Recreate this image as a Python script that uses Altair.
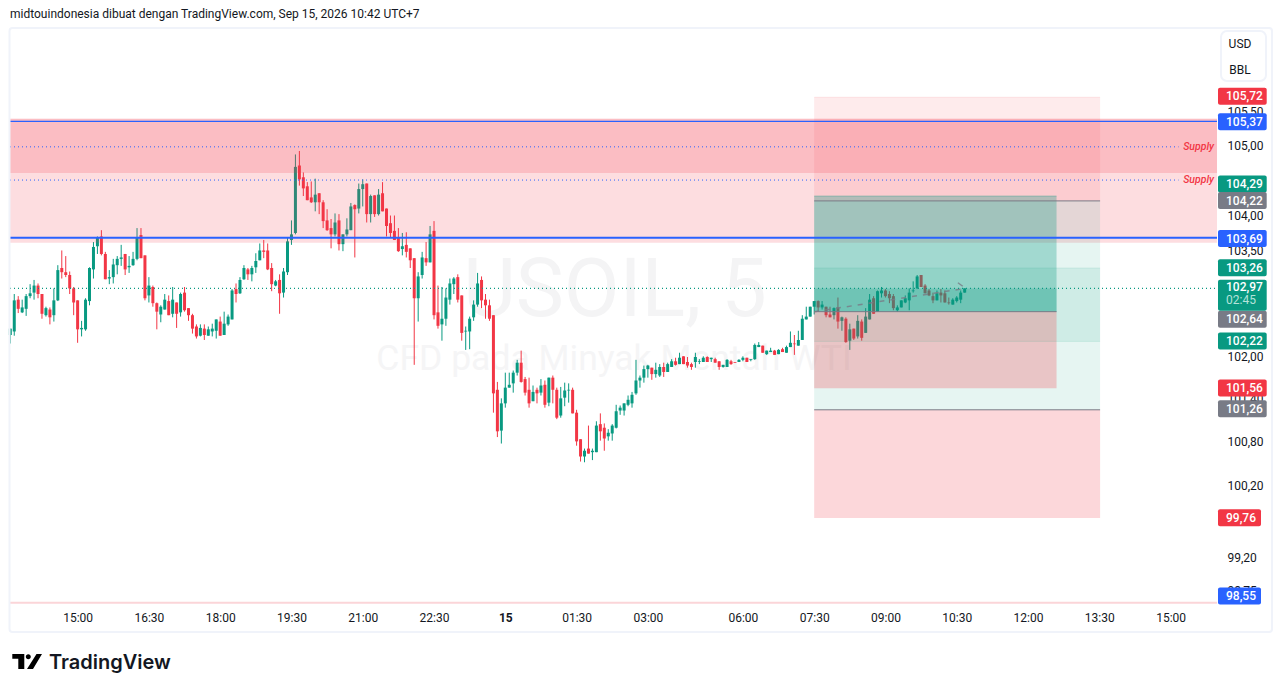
import altair as alt
import pandas as pd

directions = list(
    "GGRGGGGRRG" "RGGRRRRRGG" "GGGRRGGGGR" "GGGRRGRRGG" "RGRGRRRRGR"
    "GGGRGGGRGG" "RGGGRRRGRG" "GGGRRRRGRR" "RRGRGGGRGG" "RGRGRRRRRG"
    "RRRGGRGRRG" "GGGRRGGGGR" "RRRRGGGGGR" "RRGRGRGRRG" "GGRRRGRGGR"
    "RGGGGGGGGG" "GGRGGRGGRG" "RRRGGGRGRR" "GGRRGGRGGG" "RGGRGRGGRG"
    "GGGGRGRRGR" "GRGRGRGGRG" "GRRRGGGGGG" "RRRRGRRRGG" "GG"
)
highs = [
    102.40,102.89,102.86,102.81,102.89,103.03,103.09,103.04,102.89,102.71,
    102.70,102.97,103.30,103.51,103.43,103.21,102.99,102.80,102.51,102.83,
    103.27,103.63,103.71,103.80,103.49,103.23,103.39,103.43,103.59,103.46,
    103.43,103.49,103.83,103.83,103.44,103.13,103.01,102.77,102.73,102.89,
    102.87,102.99,102.77,102.91,102.99,102.69,102.61,102.46,102.46,102.46,
    102.43,102.47,102.53,102.57,102.64,102.60,102.96,103.04,103.13,103.30,
    103.26,103.29,103.47,103.61,103.66,103.61,103.33,103.09,103.17,103.26,
    103.69,103.94,104.89,104.94,104.63,104.49,104.50,104.54,104.33,104.23,
    104.10,103.96,104.04,104.03,103.74,103.97,104.19,104.17,104.47,104.53,
    104.47,104.31,104.30,104.39,104.49,104.11,104.01,104.01,103.83,103.76,
    103.77,103.54,103.40,103.20,103.49,103.63,103.86,103.93,103.01,102.99,
    102.97,103.11,103.13,103.17,102.87,102.43,102.57,102.80,103.19,103.14,
    102.89,102.81,102.59,101.65,101.42,101.78,101.78,101.81,101.96,102.09,
    101.72,101.71,101.60,101.57,101.69,101.67,101.71,101.74,101.57,101.58,
    101.64,101.63,101.57,101.26,100.85,100.72,101.04,100.72,101.10,101.21,
    101.07,100.99,101.06,101.33,101.32,101.35,101.46,101.51,101.96,101.74,
    101.88,101.89,101.85,101.92,101.90,101.92,101.92,101.97,101.99,102.06,
    102.01,102.00,101.92,102.06,101.97,102.01,102.01,101.99,101.99,101.94,
    101.89,101.97,101.96,101.93,101.97,102.01,101.99,101.97,102.19,102.21,
    102.16,102.09,102.13,102.10,102.11,102.13,102.16,102.36,102.31,102.37,
    102.59,102.71,102.71,102.79,102.80,102.79,102.71,102.71,102.70,102.84,
    102.57,102.56,102.47,102.40,102.59,102.53,102.69,102.89,102.86,102.94,
    102.99,102.96,102.93,102.89,102.73,102.80,102.87,102.97,103.07,103.16,
    103.16,103.03,102.96,102.91,102.94,102.96,102.94,102.84,102.83,102.86,
    102.94,102.97,
]
body_tops = [
    102.40,102.80,102.81,102.70,102.86,102.90,103.01,103.01,102.89,102.69,
    102.67,102.80,103.23,103.26,103.20,103.16,102.97,102.80,102.41,102.81,
    103.26,103.56,103.69,103.71,103.46,103.13,103.31,103.39,103.41,103.46,
    103.29,103.39,103.70,103.73,103.44,103.01,102.99,102.76,102.71,102.81,
    102.79,102.81,102.77,102.89,102.91,102.69,102.59,102.43,102.41,102.40,
    102.39,102.40,102.53,102.50,102.47,102.57,102.94,102.96,103.09,103.26,
    103.24,103.26,103.36,103.51,103.51,103.51,103.26,103.07,103.09,103.21,
    103.64,103.74,104.71,104.73,104.56,104.43,104.27,104.31,104.33,104.20,
    103.94,103.83,103.91,103.94,103.74,103.81,104.14,104.16,104.39,104.46,
    104.47,104.29,104.30,104.31,104.33,104.11,103.90,103.79,103.70,103.57,
    103.59,103.54,103.40,103.14,103.41,103.40,103.74,103.79,102.63,102.54,
    102.84,103.04,103.11,103.13,102.87,102.37,102.54,102.74,103.04,103.09,
    102.81,102.73,102.59,101.54,101.35,101.57,101.61,101.78,101.92,101.92,
    101.69,101.54,101.51,101.54,101.60,101.61,101.71,101.71,101.54,101.42,
    101.53,101.54,101.54,101.22,100.85,100.69,100.72,100.69,101.04,101.06,
    101.01,100.94,101.04,101.24,101.29,101.35,101.40,101.47,101.67,101.71,
    101.83,101.88,101.85,101.82,101.86,101.86,101.90,101.94,101.94,101.99,
    102.01,101.93,101.90,102.00,101.94,101.99,102.00,101.99,101.97,101.94,
    101.89,101.96,101.94,101.93,101.96,101.99,101.99,101.97,102.17,102.17,
    102.16,102.09,102.09,102.09,102.10,102.11,102.14,102.20,102.19,102.24,
    102.54,102.57,102.71,102.79,102.79,102.74,102.71,102.60,102.69,102.70,
    102.56,102.54,102.39,102.40,102.51,102.50,102.57,102.81,102.83,102.93,
    102.94,102.94,102.89,102.86,102.70,102.80,102.83,102.91,102.94,103.14,
    103.16,103.01,102.94,102.86,102.90,102.91,102.90,102.77,102.81,102.84,
    102.91,102.97,
]
body_bottoms = [
    102.31,102.36,102.68,102.63,102.68,102.86,102.91,102.89,102.61,102.59,
    102.56,102.59,102.80,103.20,103.16,102.97,102.77,102.39,102.39,102.39,
    102.79,103.24,103.57,103.46,103.10,103.11,103.13,103.30,103.39,103.24,
    103.27,103.30,103.39,103.40,102.83,102.87,102.76,102.64,102.60,102.67,
    102.59,102.61,102.61,102.63,102.66,102.59,102.40,102.29,102.30,102.31,
    102.30,102.36,102.37,102.30,102.31,102.46,102.53,102.89,102.90,103.10,
    103.17,103.17,103.27,103.37,103.49,103.24,103.03,103.01,102.90,102.91,
    103.20,103.66,103.76,104.53,104.40,104.23,104.20,104.20,104.20,103.93,
    103.80,103.74,103.74,103.60,103.60,103.74,103.80,104.10,104.11,104.39,
    104.03,104.03,104.03,104.03,104.07,103.86,103.76,103.66,103.50,103.53,
    103.49,103.37,102.83,102.83,103.16,103.34,103.34,102.59,102.44,102.46,
    102.54,102.81,103.03,102.81,102.34,102.36,102.36,102.56,102.74,102.80,
    102.73,102.54,101.49,100.96,100.97,101.35,101.57,101.63,101.78,101.65,
    101.50,101.35,101.38,101.49,101.50,101.33,101.36,101.54,101.15,101.18,
    101.43,101.53,101.21,100.82,100.61,100.61,100.65,100.67,100.67,100.96,
    100.86,100.89,100.93,101.01,101.25,101.25,101.33,101.35,101.49,101.67,
    101.71,101.83,101.76,101.76,101.74,101.79,101.79,101.86,101.89,101.90,
    101.90,101.88,101.86,101.93,101.93,101.93,101.93,101.97,101.92,101.86,
    101.86,101.86,101.90,101.92,101.93,101.96,101.93,101.96,101.97,102.14,
    102.06,102.04,102.07,102.03,102.04,102.07,102.06,102.14,102.18,102.16,
    102.24,102.53,102.57,102.71,102.70,102.70,102.59,102.56,102.59,102.50,
    102.51,102.21,102.23,102.26,102.29,102.27,102.34,102.53,102.61,102.64,
    102.90,102.86,102.83,102.69,102.66,102.70,102.77,102.80,102.93,102.97,
    102.99,102.90,102.87,102.80,102.80,102.87,102.77,102.76,102.74,102.79,
    102.81,102.91,
]
lows = [
    102.19,102.30,102.62,102.62,102.58,102.83,102.81,102.83,102.54,102.57,
    102.46,102.50,102.79,103.11,103.13,102.89,102.59,102.20,102.29,102.37,
    102.73,103.11,103.46,103.44,103.10,103.03,103.04,103.17,103.29,103.16,
    103.19,103.29,103.37,103.40,102.80,102.77,102.71,102.39,102.49,102.67,
    102.59,102.56,102.41,102.57,102.64,102.51,102.33,102.26,102.29,102.24,
    102.30,102.29,102.26,102.30,102.31,102.44,102.53,102.77,102.89,103.09,
    103.09,103.07,103.19,103.37,103.40,103.23,102.93,103.00,102.61,102.84,
    103.16,103.59,103.74,104.44,104.29,104.23,104.19,104.07,104.03,103.83,
    103.79,103.54,103.71,103.51,103.50,103.71,103.80,103.41,104.04,104.14,
    103.91,103.91,103.99,104.01,104.07,103.71,103.69,103.66,103.49,103.44,
    103.41,103.26,101.89,102.50,103.11,103.29,103.34,102.53,102.40,102.23,
    102.44,102.74,102.89,102.77,102.23,102.10,102.11,102.51,102.71,102.69,
    102.54,102.51,101.22,100.88,100.79,101.29,101.57,101.50,101.74,101.64,
    101.46,101.29,101.38,101.35,101.46,101.29,101.31,101.35,101.13,101.15,
    101.31,101.36,101.21,100.76,100.54,100.53,100.65,100.56,100.67,100.83,
    100.69,100.83,100.83,101.00,101.19,101.18,101.31,101.29,101.47,101.57,
    101.64,101.71,101.68,101.71,101.72,101.72,101.79,101.86,101.88,101.90,
    101.90,101.85,101.82,101.85,101.90,101.93,101.93,101.93,101.92,101.82,
    101.85,101.86,101.89,101.92,101.93,101.94,101.93,101.94,101.96,102.14,
    102.06,102.03,102.07,102.03,102.04,102.07,102.06,102.14,102.03,102.16,
    102.24,102.53,102.57,102.60,102.64,102.67,102.56,102.56,102.53,102.40,
    102.37,102.20,102.10,102.24,102.26,102.23,102.34,102.53,102.61,102.64,
    102.84,102.84,102.76,102.66,102.64,102.70,102.76,102.66,102.91,102.96,
    102.99,102.90,102.86,102.76,102.80,102.77,102.77,102.74,102.74,102.77,
    102.76,102.91,
]

time_ticks = [18, 36, 54, 72, 90, 108, 126, 144, 162, 186, 204, 222, 240, 258, 276, 294]
time_labels = ["15:00", "16:30", "18:00", "19:30", "21:00", "22:30", "15", "01:30",
               "03:00", "06:00", "07:30", "09:00", "10:30", "12:00", "13:30", "15:00"]
price_ticks = [105.5, 105.0, 104.0, 103.5, 102.0, 101.4, 100.8, 100.2, 99.2, 98.75]

tag_labels = ["105,72", "105,37", "104,29", "104,22", "103,69", "103,26", "102,64",
              "102,22", "101,56", "101,26", "99,76", "98,55"]
tag_at = [105.735, 105.364, 104.464, 104.224, 103.68, 103.264, 102.534,
          102.224, 101.564, 101.274, 99.764, 98.694]
tag_colors = ["#f23645", "#2962ff", "#089981", "#787b86", "#2962ff", "#089981", "#787b86",
              "#089981", "#f23645", "#787b86", "#f23645", "#2962ff"]
tag_ends = [1256.7] * 10 + [1251, 1251]

X_DOMAIN = [0.924, 305.72]
Y_DOMAIN = [98.584, 106.735]
xs = alt.Scale(domain=X_DOMAIN, nice=False, zero=False, padding=0)
ys = alt.Scale(type="log", domain=Y_DOMAIN, nice=False, zero=False)
FONT = "Roboto"
INK = "#131722"
UP, DOWN, BLUE, GREY = "#089981", "#f23645", "#2962ff", "#787b86"

bars = pd.DataFrame({
    "bar": range(1, len(highs) + 1), "high": highs, "low": lows,
    "top": body_tops, "bottom": body_bottoms,
    "color": [UP if d == "G" else DOWN for d in directions],
})
bars["open"] = [b if d == "G" else t for d, t, b in zip(directions, body_tops, body_bottoms)]
bars["close"] = [t if d == "G" else b for d, t, b in zip(directions, body_tops, body_bottoms)]

tick_map = ",".join(f"{v}:'{l}'" for v, l in zip(time_ticks, time_labels))
x_axis = alt.Axis(
    values=time_ticks, labelExpr="{" + tick_map + "}[datum.value]", title=None, grid=False,
    domain=False, ticks=False, labelFont=FONT, labelFontSize=12, labelColor=INK,
    labelPadding=8, labelOverlap=False, labelFlush=False,
    labelFontWeight=alt.expr("datum.value==126?'bold':'normal'"),
)
y_axis = alt.Axis(
    orient="right", values=price_ticks, title=None, grid=False, domain=False, ticks=False,
    labelExpr="replace(format(datum.value,'.2f'),'.',',')", labelFont=FONT, labelFontSize=12,
    labelColor=INK, labelPadding=10, labelOverlap=False, labelFlush=False, labelOffset=-1,
)


def qx(field):
    return alt.X(field, scale=xs, axis=x_axis)


def qy(field):
    return alt.Y(field, scale=ys, axis=y_axis)


def label(text, x, y, **kw):
    return alt.Chart(pd.DataFrame({"t": [text]})).mark_text(
        **{"font": FONT, "fontSize": 12, "color": INK, "align": "left", "baseline": "middle", **kw}
    ).encode(x=alt.value(x), y=alt.value(y), text="t:N")


def zone(top, bottom, start, end, color, opacity):
    d = pd.DataFrame({"a": [start], "b": [end], "p": [top], "q": [bottom]})
    return alt.Chart(d).mark_rect(color=color, opacity=opacity).encode(
        x=qx("a:Q"), x2="b:Q", y=qy("p:Q"), y2="q:Q",
    )


def level(price, start, end, color, width=1, dash=None, opacity=1):
    d = pd.DataFrame({"a": [start], "b": [end], "p": [price]})
    kw = {"strokeDash": dash} if dash else {}
    return alt.Chart(d).mark_rule(color=color, strokeWidth=width, opacity=opacity, **kw).encode(
        x=qx("a:Q"), x2="b:Q", y=qy("p:Q"),
    )


L, R = X_DOMAIN
TOOL_L, TOOL_C, TOOL_R = 204, 265.2, 276.2

wicks = alt.Chart(bars).mark_rule(strokeWidth=1).encode(
    x=qx("bar:Q"), y=qy("low:Q"), y2="high:Q",
    color=alt.Color("color:N", scale=None),
)
bodies = alt.Chart(bars).mark_bar(size=3).encode(
    x=qx("bar:Q"), y=qy("top:Q"), y2="bottom:Q",
    color=alt.Color("color:N", scale=None),
)

ghost = pd.DataFrame({"bar": [204, 241], "p": [102.64, 102.96]})
ghost_line = alt.Chart(ghost).mark_line(color=GREY, strokeWidth=1.5, strokeDash=[5, 6], opacity=0.8).encode(
    x=qx("bar:Q"), y=qy("p:Q"))
ghost2 = pd.DataFrame({"bar": [240.3, 241.5], "p": [103.05, 103.0]})
ghost_hook = alt.Chart(ghost2).mark_line(color=GREY, strokeWidth=1.5, opacity=0.8).encode(
    x=qx("bar:Q"), y=qy("p:Q"))

tags = pd.DataFrame({"label": tag_labels, "at": tag_at, "color": tag_colors, "end": tag_ends, "start": [1208] * 12})
tag_rects = alt.Chart(tags).mark_rect(height=17, cornerRadius=2).encode(
    x=alt.X("start:Q", scale=None, axis=None), x2="end:Q",
    y=qy("at:Q"), color=alt.Color("color:N", scale=None),
)
tag_text = alt.Chart(tags).mark_text(font=FONT, fontSize=12, fontWeight=500, color="white", align="left", baseline="middle").encode(
    x=alt.value(1216), y=qy("at:Q"), text="label:N")
now = pd.DataFrame({"at": [102.874], "start": [1208], "end": [1256.7]})
now_rect = alt.Chart(now).mark_rect(height=31, cornerRadius=2, color=UP).encode(
    x=alt.X("start:Q", scale=None, axis=None), x2="end:Q", y=qy("at:Q"))
now_price = alt.Chart(pd.DataFrame({"t": ["102,97"], "at": [102.984]})).mark_text(
    font=FONT, fontSize=12, fontWeight=500, color="white", align="left", baseline="middle").encode(
    x=alt.value(1216), y=qy("at:Q"), text="t:N")
now_clock = alt.Chart(pd.DataFrame({"t": ["02:45"], "at": [102.804]})).mark_text(
    font=FONT, fontSize=12, color="#b5e3da", align="left", baseline="middle").encode(
    x=alt.value(1216), y=qy("at:Q"), text="t:N")

supply_lines = pd.DataFrame({"t": ["Supply", "Supply"], "p": [105.0, 104.52]})
supply_text = alt.Chart(supply_lines).mark_text(
    font=FONT, fontSize=10.5, fontStyle="italic", fontWeight=500, color=DOWN, align="right", baseline="middle").encode(
    x=alt.value(1204), y=qy("p:Q"), text="t:N")

frame = alt.Chart(pd.DataFrame({"a": [0]})).mark_rect(
    stroke="#f0f3fa", strokeWidth=2, fillOpacity=0, cornerRadius=3).encode(
    x=alt.value(-0.5), x2=alt.value(1262), y=alt.value(0), y2=alt.value(604))
unit_box = alt.Chart(pd.DataFrame({"a": [0]})).mark_rect(
    stroke="#f0f3fa", strokeWidth=2, fill="white", cornerRadius=6).encode(
    x=alt.value(1211), x2=alt.value(1256), y=alt.value(3), y2=alt.value(53))

LOGO = ("M0 0H12V15H6V4.7H0Z M13.5 2.7a2.5 2.5 0 1 0 5 0a2.5 2.5 0 1 0 -5 0Z "
        "M24.2 0H29.7L20.7 15H14.7Z")
logo = alt.Chart(pd.DataFrame({"a": [0]})).mark_point(
    shape=LOGO, size=4, filled=True, color="#000000", opacity=1).encode(
    x=alt.value(2.3), y=alt.value(626))

chart = alt.layer(
    label("USOIL, 5", 605, 264, fontSize=81, color="#f4f4f5", align="center"),
    label("CFD pada Minyak Mentah WTI", 604, 331, fontSize=35.5, color="#f5f5f6", align="center"),
    wicks, bodies,
    zone(105.406, 103.62, L, R, DOWN, 0.17),
    zone(105.406, 104.62, L, R, DOWN, 0.19),
    zone(105.72, 104.22, TOOL_L, TOOL_R, DOWN, 0.10),
    zone(104.22, 102.22, TOOL_L, TOOL_R, UP, 0.10),
    zone(103.26, 101.26, TOOL_L, TOOL_R, UP, 0.10),
    zone(101.26, 99.76, TOOL_L, TOOL_R, DOWN, 0.20),
    zone(104.29, 102.64, TOOL_L, TOOL_C, UP, 0.30),
    zone(102.64, 101.56, TOOL_L, TOOL_C, DOWN, 0.25),
    zone(102.97, 102.64, TOOL_L, TOOL_C, UP, 0.25),
    level(105.72, TOOL_L, TOOL_R, DOWN, opacity=0.1),
    level(104.29, TOOL_L, TOOL_C, UP, opacity=0.3),
    level(103.26, TOOL_L, TOOL_R, UP, opacity=0.1),
    level(102.22, TOOL_L, TOOL_R, UP, opacity=0.1),
    level(104.22, TOOL_L, TOOL_R, GREY),
    level(101.26, TOOL_L, TOOL_R, GREY),
    level(102.64, TOOL_L, TOOL_C, GREY),
    ghost_line, ghost_hook,
    level(105.37, L, R, BLUE, 1.2),
    level(103.69, L, R, BLUE, 2),
    level(105.0, L, 296, BLUE, 1, [1, 3]),
    level(104.52, L, 296, BLUE, 1, [1, 3]),
    level(102.97, L, R, UP, 1.4, [1, 3]),
    level(98.60, L, R, "#fbd5d8", 2),
    supply_text,
    frame, unit_box,
    label("USD", 1230, 16, align="center"),
    label("BBL", 1230, 42, align="center"),
    tag_rects, tag_text, now_rect, now_price, now_clock,
    label("midtouindonesia dibuat dengan TradingView.com, Sep 15, 2026 10:42 UTC+7", 0, -14),
    logo,
    label("TradingView", 39, 635, font="Inter", fontSize=20, fontWeight=600, color="#131722"),
).properties(
    width=1207, height=576,
    autosize=alt.AutoSizeParams(type="none", contains="content"),
    padding={"left": 2, "top": 20, "right": 56, "bottom": 72},
).configure_view(stroke=None)

chart.save("out.html", embed_options={"renderer": "svg", "actions": False})
